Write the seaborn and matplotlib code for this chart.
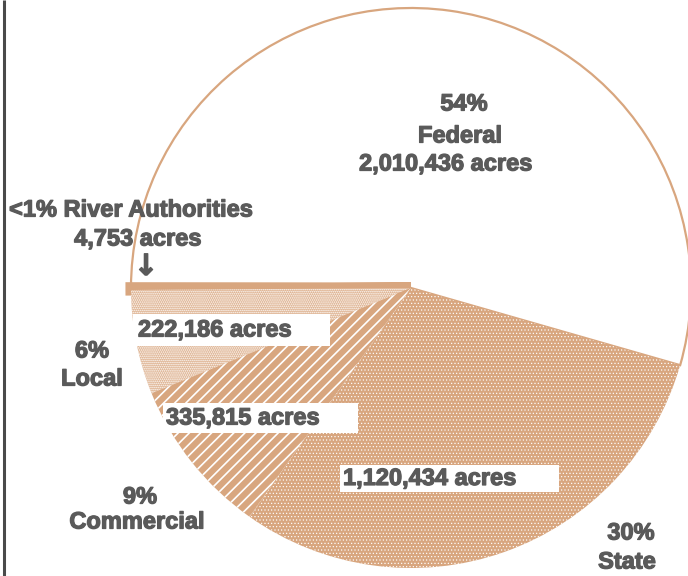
import matplotlib
matplotlib.use("Agg")
import matplotlib.pyplot as plt
import matplotlib.patheffects as pe
from matplotlib.patches import Rectangle
import seaborn as sns

# Land ownership, acres
owners = ["Federal", "River Authorities", "Local", "Commercial", "State"]
acres = [2010436, 4753, 222186, 335815, 1120434]
percent_labels = ["54%", "<1%", "6%", "9%", "30%"]
acre_labels = ["2,010,436 acres", "4,753 acres", "222,186 acres",
               "335,815 acres", "1,120,434 acres"]

sns.set_theme(style="white")
plt.rcParams["font.family"] = ["Liberation Sans", "DejaVu Sans"]

TAN = "#d8a67f"
INK = "#5a5a5a"
W, H = 688, 576

fig = plt.figure(figsize=(W / 100, H / 100), dpi=100)
ax = fig.add_axes([0, 0, 1, 1])

cx, cy, r = 411, H - 288, 280
wedges, _ = ax.pie(acres, startangle=-16, counterclock=True,
                   center=(cx, cy), radius=r,
                   wedgeprops=dict(linewidth=0))

styles = {
    "Federal": dict(facecolor="white", edgecolor=TAN, linewidth=1.6,
                    hatch=None, hlw=1.0),
    "River Authorities": dict(facecolor=TAN, edgecolor=TAN, linewidth=8,
                              hatch=None, hlw=1.0),
    "Local": dict(facecolor="#deb290", edgecolor="white", linewidth=0,
                  hatch="........", hlw=0.8),
    "Commercial": dict(facecolor=TAN, edgecolor="white", linewidth=0,
                       hatch="///", hlw=1.2),
    "State": dict(facecolor=TAN, edgecolor="white", linewidth=0,
                  hatch=".....", hlw=0.45),
}
for w, name in zip(wedges, owners):
    st = styles[name]
    w.set_facecolor(st["facecolor"])
    w.set_edgecolor(st["edgecolor"])
    w.set_linewidth(st["linewidth"])
    if st["hatch"]:
        w.set_hatch(st["hatch"])
        if hasattr(w, "set_hatch_linewidth"):
            w.set_hatch_linewidth(st["hlw"])
        else:
            w._hatch_linewidth = st["hlw"]

ax.set_xlim(0, W)
ax.set_ylim(0, H)
ax.set_aspect("equal")
ax.axis("off")


def Y(y):
    return H - y


fs = 17
heavy = [pe.withStroke(linewidth=0.9, foreground=INK)]
bold = dict(fontsize=fs, fontweight="bold", color=INK, ha="center",
            va="center", path_effects=heavy)

# Federal
ax.text(464, Y(104), percent_labels[0], **bold)
ax.text(460, Y(136), owners[0], **bold)
ax.text(446, Y(164), acre_labels[0], **bold)

# River Authorities
ax.text(131, Y(210), f"{percent_labels[1]} {owners[1]}", **bold)
ax.text(138, Y(239), acre_labels[1], **bold)
ax.text(146, Y(267), "\u2193", fontsize=21, fontweight="bold", color=INK,
        ha="center", va="center", family="DejaVu Sans", path_effects=heavy)

# Local
ax.text(92, Y(351), percent_labels[2], **bold)
ax.text(92, Y(379), owners[2], **bold)

# Commercial
ax.text(140, Y(497), percent_labels[3], **bold)
ax.text(137, Y(522), owners[3], **bold)

# State
ax.text(631, Y(533), percent_labels[4], **bold)
ax.text(627, Y(562), owners[4], **bold)

# white label boxes laid over the wedges
boxes = [
    (acre_labels[2], 133, 314, 330, 346, 138),
    (acre_labels[3], 163, 403, 358, 433, 166),
    (acre_labels[4], 340, 465, 559, 492, 343),
]
for text, x0, y0, x1, y1, tx in boxes:
    ax.add_patch(Rectangle((x0, Y(y1)), x1 - x0, y1 - y0,
                           facecolor="white", edgecolor="none", zorder=3))
    ax.text(tx, Y((y0 + y1) / 2), text, fontsize=fs, fontweight="bold",
            color=INK, ha="left", va="center", zorder=4, path_effects=heavy)

# left rule
ax.plot([4, 4], [0, H], color="#4a4a4a", linewidth=2.2, solid_capstyle="butt")

fig.savefig("out.png", dpi=100)
